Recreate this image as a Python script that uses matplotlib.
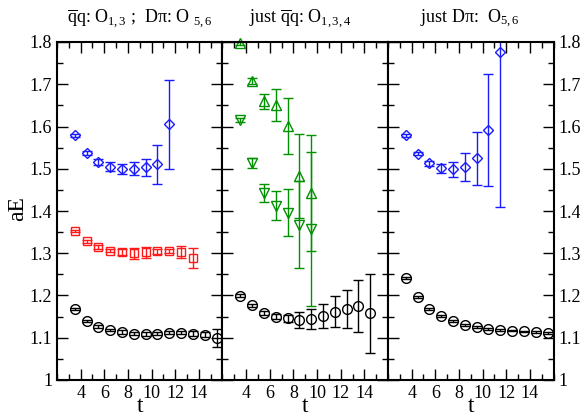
import numpy as np
import matplotlib
matplotlib.use("Agg")
import matplotlib.pyplot as plt
from matplotlib.ticker import MultipleLocator

plt.rcParams['font.family'] = ['Liberation Serif', 'DejaVu Serif']
plt.rcParams['mathtext.fontset'] = 'custom'
plt.rcParams['mathtext.rm'] = 'Liberation Serif'
plt.rcParams['mathtext.it'] = 'Liberation Serif:italic'

# ---- data ----
t_all = np.arange(3.5, 16, 1.0)

# left panel: qq O_{1,3} ; Dpi O_{5,6}
left_blue_t = t_all[:9]
left_blue = [1.579, 1.537, 1.516, 1.505, 1.500, 1.500, 1.503, 1.511, 1.605]
left_blue_err = [0.003, 0.004, 0.006, 0.010, 0.012, 0.015, 0.021, 0.046, 0.106]

left_red_t = t_all[:11]
left_red = [1.353, 1.328, 1.315, 1.306, 1.303, 1.300, 1.302, 1.305, 1.306, 1.302, 1.289]
left_red_err = [0.003, 0.003, 0.004, 0.004, 0.006, 0.013, 0.013, 0.006, 0.005, 0.014, 0.024]

left_black_t = t_all[:13]
left_black = [1.168, 1.140, 1.126, 1.118, 1.114, 1.110, 1.109, 1.110, 1.112, 1.112,
              1.110, 1.107, 1.100]
left_black_err = [0.002, 0.002, 0.003, 0.003, 0.004, 0.004, 0.004, 0.004, 0.004, 0.004,
                  0.005, 0.006, 0.021]

# middle panel: just qq O_{1,3,4}
mid_up_t = t_all[:7]
mid_up = [1.797, 1.708, 1.660, 1.651, 1.601, 1.483, 1.443]
mid_up_err = [0.004, 0.007, 0.018, 0.038, 0.067, 0.099, 0.138]

mid_dn_t = t_all[:7]
mid_dn = [1.615, 1.513, 1.442, 1.413, 1.396, 1.367, 1.357]
mid_dn_err = [0.004, 0.012, 0.021, 0.034, 0.056, 0.103, 0.182]

mid_black_t = t_all[:12]
mid_black = [1.200, 1.177, 1.159, 1.150, 1.146, 1.142, 1.144, 1.151, 1.162, 1.168,
             1.175, 1.158]
mid_black_err = [0.003, 0.004, 0.005, 0.006, 0.008, 0.018, 0.023, 0.029, 0.036, 0.046,
                 0.062, 0.093]

# right panel: just Dpi O_{5,6}
right_blue_t = t_all[:9]
right_blue = [1.579, 1.536, 1.513, 1.501, 1.499, 1.505, 1.525, 1.591, 1.776]
right_blue_err = [0.003, 0.004, 0.006, 0.010, 0.018, 0.033, 0.063, 0.133, 0.366]

right_black_t = t_all[:13]
right_black = [1.242, 1.196, 1.168, 1.151, 1.140, 1.130, 1.125, 1.121, 1.118, 1.117,
               1.115, 1.114, 1.112]
right_black_err = [0.002] * 13

titles = [r'$\overline{\mathrm{q}}$q: O$_{1,3}$ ;  D' + '\u03c0' + r': O $_{5,6}$',
          r'just $\overline{\mathrm{q}}$q: O$_{1,3,4}$',
          'just D\u03c0:  O' + r'$_{5,6}$']
title_x = [0.241, 0.517, 0.81]

BLUE = '#1a1aff'
RED = '#ff1a1a'
GREEN = '#009000'
BLACK = '#000000'

fig = plt.figure(figsize=(5.8, 4.18), dpi=100)
left0, bottom, w, h = 57 / 580, 38 / 418, 165.5 / 580, 338 / 418
axes = [fig.add_axes([left0 + i * w, bottom, w, h]) for i in range(3)]


def series(ax, t, y, e, marker, color, ms, clip=True):
    ax.errorbar(t, y, yerr=e, fmt=marker, color=color, mfc='none', mec=color,
                ms=ms, mew=1.0, elinewidth=1.0, capsize=3.5, capthick=1.0,
                clip_on=clip)


series(axes[0], left_blue_t, left_blue, left_blue_err, 'D', BLUE, 5)
series(axes[0], left_red_t, left_red, left_red_err, 's', RED, 6)
series(axes[0], left_black_t, left_black, left_black_err, 'o', BLACK, 7)

series(axes[1], mid_up_t, mid_up, mid_up_err, '^', GREEN, 7, clip=False)
series(axes[1], mid_dn_t, mid_dn, mid_dn_err, 'v', GREEN, 7)
series(axes[1], mid_black_t, mid_black, mid_black_err, 'o', BLACK, 7)

series(axes[2], right_blue_t, right_blue, right_blue_err, 'D', BLUE, 5)
series(axes[2], right_black_t, right_black, right_black_err, 'o', BLACK, 7)

for i, ax in enumerate(axes):
    ax.set_xlim(2, 16)
    ax.set_ylim(1.0, 1.8)
    ax.set_xticks(np.arange(4, 15, 2))
    ax.xaxis.set_minor_locator(MultipleLocator(1))
    ax.yaxis.set_major_locator(MultipleLocator(0.1))
    ax.yaxis.set_minor_locator(MultipleLocator(0.05))
    ax.yaxis.set_major_formatter(plt.FuncFormatter(lambda v, p: '%g' % round(v, 2)))
    ax.tick_params(which='both', direction='in', top=True, right=True,
                   labelsize=13, width=1.0)
    ax.tick_params(which='major', length=8)
    ax.tick_params(which='minor', length=4)
    ax.tick_params(axis='y', which='both', left=True, right=True,
                   labelleft=(i == 0), labelright=(i == 2))
    for s in ax.spines.values():
        s.set_linewidth(1.5)
    ax.set_xlabel('t', fontsize=17, labelpad=-4)
    fig.text(title_x[i], 0.955, titles[i], ha='center', va='center', fontsize=13)

fig.text(0.03, 0.50, 'aE', rotation=90, ha='center', va='center', fontsize=17)

fig.savefig('out.png', dpi=100)
